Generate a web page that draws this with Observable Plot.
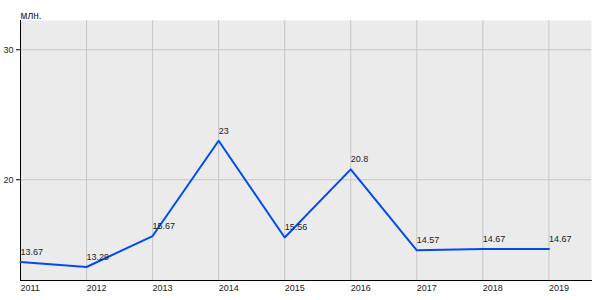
<!DOCTYPE html>
<html>
<head>
<meta charset="utf-8">
<script src="https://cdn.jsdelivr.net/npm/d3@7"></script>
<script src="https://cdn.jsdelivr.net/npm/@observablehq/plot@0.6"></script>
<style>
  html, body { margin: 0; padding: 0; background: #fff; }
  #chart svg { display: block; }
</style>
</head>
<body>
<div id="chart"></div>
<script>
const years = [2011, 2012, 2013, 2014, 2015, 2016, 2017, 2018, 2019];
const values = [13.67, 13.29, 15.67, 23, 15.56, 20.8, 14.57, 14.67, 14.67];
const labels = ["13.67", "13.29", "15.67", "23", "15.56", "20.8", "14.57", "14.67", "14.67"];
const yTicks = [20, 30];
const unitLabel = ["млн."];

const data = years.map((y, i) => ({year: y, value: values[i], label: labels[i]}));

const chart = Plot.plot({
  width: 600,
  height: 300,
  marginLeft: 20,
  marginTop: 20,
  marginBottom: 20,
  marginRight: 9,
  style: {fontFamily: "Arial, 'Liberation Sans', sans-serif", fontSize: "9px", color: "#222", background: "#fff"},
  x: {domain: [2011, 2019.645]},
  y: {domain: [12.25, 32.25]},
  marks: [
    Plot.frame({fill: "#ebebeb", stroke: null}),
    Plot.gridX(years, {stroke: "#c6c6c6", strokeOpacity: 1, strokeWidth: 1}),
    Plot.gridY(yTicks, {stroke: "#c6c6c6", strokeOpacity: 1, strokeWidth: 1}),
    Plot.frame({anchor: "left", stroke: "#000"}),
    Plot.frame({anchor: "bottom", stroke: "#000"}),
    Plot.axisY(yTicks, {tickSize: 4, tickPadding: 3, label: null, fontSize: 9, stroke: "#000"}),
    Plot.axisX(years, {tickSize: 0, tickPadding: 4, textAnchor: "start", tickFormat: d => String(d), label: null, fontSize: 9}),
    Plot.line(data, {x: "year", y: "value", stroke: "#004cf0", strokeWidth: 2}),
    Plot.text(data, {x: "year", y: "value", text: "label", textAnchor: "start", dy: -10, fill: "#222", fontSize: 9}),
    Plot.text(unitLabel, {text: d => d, frameAnchor: "top-left", textAnchor: "start", dy: -9, fill: "#222", fontSize: 10})
  ]
});
document.getElementById("chart").appendChild(chart);
</script>
</body>
</html>
